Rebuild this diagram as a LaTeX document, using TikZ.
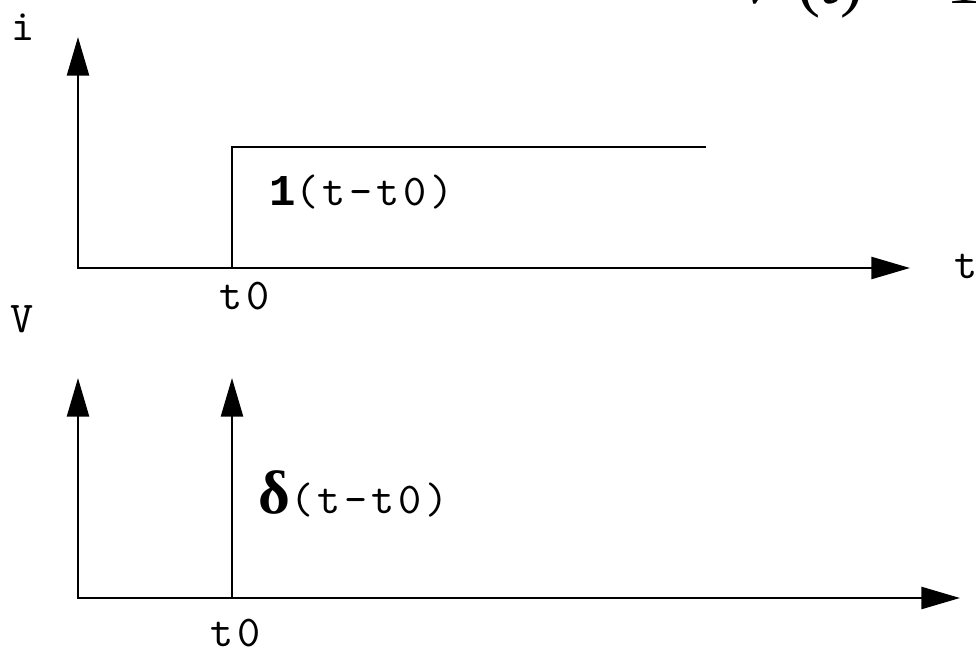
\documentclass[tikz,border=0pt]{standalone}
\usepackage{fontspec}
\setmainfont{Liberation Serif}
\newfontfamily\boldmono{Liberation Mono}
\newfontfamily\lblmono{lmmono10-regular.otf}[LetterSpace=9]
\usetikzlibrary{arrows.meta}
\tikzset{
  axis/.style={line width=1.9pt, -{Triangle[length=29pt,width=16.5pt]}},
  plain/.style={line width=1.9pt},
  lbl/.style={anchor=base west, inner sep=0pt, font=\fontsize{33}{33}\selectfont\lblmono},
  formula/.style={anchor=base west, inner sep=0pt, font=\fontsize{52}{52}\selectfont\rmfamily}
}
\begin{document}
\begin{tikzpicture}[x=0.75pt,y=-0.75pt]
\useasboundingbox (0,0) rectangle (976,650);
\clip (0,0) rectangle (976,650);
% coordinates
\coordinate (o1) at (77,268);
\coordinate (y1) at (78,37);
\coordinate (x1) at (910,268);
\coordinate (s0) at (232,268);
\coordinate (s1) at (232,147);
\coordinate (s2) at (706,147);
\coordinate (o2) at (77,598);
\coordinate (y2) at (78,378);
\coordinate (x2) at (960,598);
\coordinate (d0) at (232,598);
\coordinate (d1) at (232,378);
% top chart
\draw[axis] (78,268) -- (y1);
\draw[axis] (o1) -- (x1);
\draw[plain] (s0) -- (s1) -- (s2);
% bottom chart
\draw[axis] (78,598) -- (y2);
\draw[axis] (o2) -- (x2);
\draw[axis] (d0) -- (d1);
% labels
\node[lbl] (li) at (11,40) {i};
\node[lbl] (lt) at (954,278) {t};
\node[lbl] (lt0a) at (219,309) {t0};
\node[lbl] (lstep) at (269,205) {{\boldmono\bfseries 1}(t-t0)};
\node[lbl] (lv) at (10,332) {V};
\node[lbl] (lt0b) at (210,646) {t0};
\node[lbl] (ldelta) at (258,513) {{\rmfamily\bfseries\fontsize{46}{46}\selectfont δ}(t-t0)};
% clipped formula at the top edge
\node[formula] (form) at (742,3) {\textit{v}\hspace{18pt}(\textit{t})\hspace{7pt} = 1};
\end{tikzpicture}
\end{document}
